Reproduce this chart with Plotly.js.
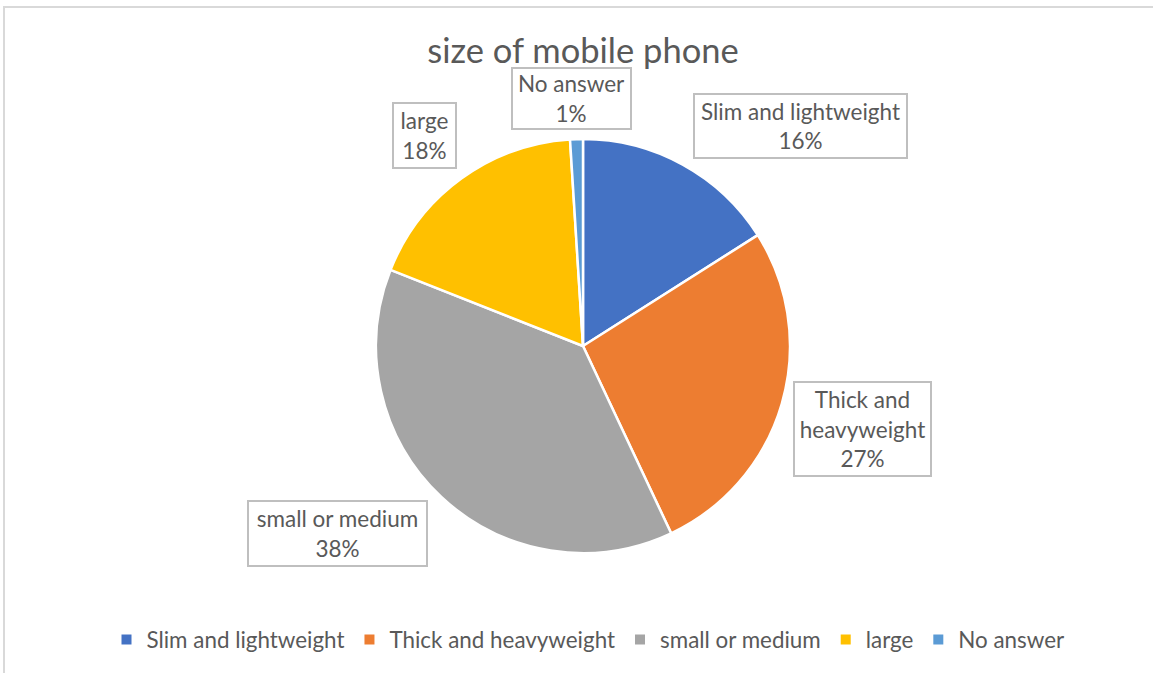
<!DOCTYPE html>
<html>
<head>
<meta charset="utf-8">
<script src="https://cdn.plot.ly/plotly-3.0.1.min.js"></script>
<style>
  html, body { margin: 0; padding: 0; background: #ffffff; }
  #frame { position: absolute; left: 3px; top: 6px; width: 1200px; height: 700px; border: 2px solid #D9D9D9; box-sizing: border-box; }
  #chart { position: absolute; left: 0; top: 0; width: 1153px; height: 673px; }
</style>
</head>
<body>
<div id="frame"></div>
<div id="chart"></div>
<script>
const categories = ["Slim and lightweight", "Thick and heavyweight", "small or medium", "large", "No answer"];
const percentages = [16, 27, 38, 18, 1];
const boxLabels = ["Slim and lightweight", "Thick and<br>heavyweight", "small or medium", "large", "No answer"];
const colors = ["#4472C4", "#ED7D31", "#A5A5A5", "#FFC000", "#5B9BD5"];

const W = 1153, H = 673;
const FONT = "Lato, 'Open Sans', sans-serif";
const TXT = "#595959";

// label box centres (px) and sizes
const boxPos = [
  {cx: 800, cy: 126, w: 211, h: 62},
  {cx: 862, cy: 429, w: 135, h: 92},
  {cx: 337, cy: 533, w: 177, h: 63},
  {cx: 424, cy: 136, w: 61, h: 63},
  {cx: 571, cy: 98, w: 117, h: 59}
];

const cx = 583, cy = 346, r = 207;

const trace = {
  type: "pie",
  labels: categories,
  values: percentages,
  sort: false,
  direction: "clockwise",
  rotation: 0,
  marker: { colors: colors, line: { color: "#ffffff", width: 2.5 } },
  textinfo: "none",
  hoverinfo: "label+percent",
  domain: { x: [(cx - r) / W, (cx + r) / W], y: [1 - (cy + r) / H, 1 - (cy - r) / H] }
};

const annotations = categories.map((c, i) => ({
  xref: "paper", yref: "paper",
  x: boxPos[i].cx / W, y: 1 - boxPos[i].cy / H,
  xanchor: "center", yanchor: "middle",
  showarrow: false,
  text: boxLabels[i] + "<br>" + percentages[i] + "%",
  font: { family: FONT, size: 22.5, color: TXT },
  align: "center",
  width: boxPos[i].w, height: boxPos[i].h,
  bordercolor: "#BFBFBF", borderwidth: 2, borderpad: 0,
  bgcolor: "#ffffff"
}));

const layout = {
  width: W, height: H,
  margin: { l: 0, r: 0, t: 0, b: 0 },
  paper_bgcolor: "rgba(0,0,0,0)",
  plot_bgcolor: "rgba(0,0,0,0)",
  title: {
    text: "size of mobile phone",
    font: { family: FONT, size: 34.5, color: TXT },
    x: 583 / W, xanchor: "center",
    y: 1 - 51 / H, yanchor: "middle",
    xref: "paper", yref: "paper"
  },
  showlegend: true,
  legend: {
    orientation: "h",
    x: 588 / W, xanchor: "center",
    y: 1 - 640 / H, yanchor: "middle",
    font: { family: FONT, size: 22.4, color: TXT },
    itemsizing: "constant",
    traceorder: "normal"
  },
  annotations: annotations
};

Plotly.newPlot("chart", [trace], layout, { displayModeBar: false, staticPlot: true });
</script>
</body>
</html>
